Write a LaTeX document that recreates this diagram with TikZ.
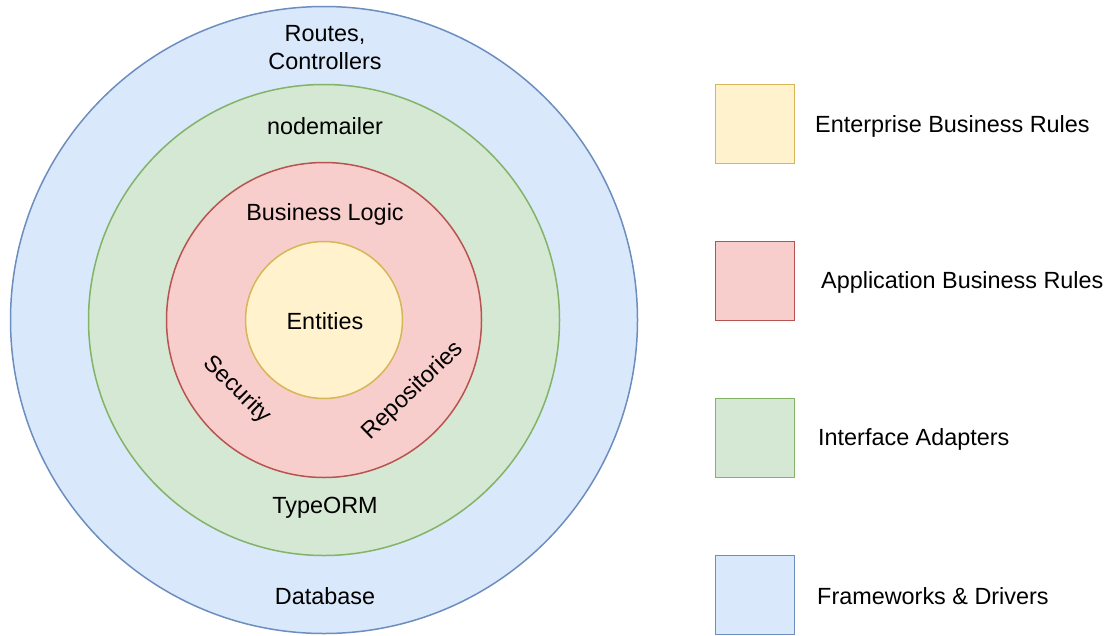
\documentclass[tikz,border=0pt]{standalone}
\usepackage{fontspec}
\setmainfont{Liberation Sans}
\definecolor{yfill}{HTML}{FFF2CC}\definecolor{ydraw}{HTML}{D6B656}
\definecolor{rfill}{HTML}{F8CECC}\definecolor{rdraw}{HTML}{B85450}
\definecolor{gfill}{HTML}{D5E8D4}\definecolor{gdraw}{HTML}{82B366}
\definecolor{bfill}{HTML}{DAE8FC}\definecolor{bdraw}{HTML}{6C8EBF}
\begin{document}
\begin{tikzpicture}[x=1pt,y=-1pt,
  ring/.style={circle,draw,line width=1.5pt,inner sep=0pt},
  key/.style={rectangle,draw,line width=1.5pt,inner sep=0pt,minimum size=79pt},
  lbl/.style={font=\fontsize{23.4}{28}\selectfont,inner sep=0pt,align=center},
  keytext/.style={font=\fontsize{23.4}{28}\selectfont,inner sep=0pt,anchor=west}]
\useasboundingbox (0,0) rectangle (1108,635);
% nested layers
\node[ring,fill=bfill,draw=bdraw,minimum size=627pt] (frameworks) at (324,320) {};
\node[ring,fill=gfill,draw=gdraw,minimum size=471pt] (adapters) at (324,320) {};
\node[ring,fill=rfill,draw=rdraw,minimum size=315pt] (usecases) at (324,320) {};
\node[ring,fill=yfill,draw=ydraw,minimum size=157pt] (entities) at (324,320) {};
% layer labels
\node[lbl] (routes) at (325,48) {Routes,\\Controllers};
\node[lbl] (mailer) at (325,126) {nodemailer};
\node[lbl] (logic) at (325,214) {Business Logic};
\node[lbl] (ent) at (325,321) {Entities};
\node[lbl,rotate=-45] (security) at (237,390) {Security};
\node[lbl,rotate=44] (repos) at (413,391) {Repositories};
\node[lbl] (orm) at (325,508) {TypeORM};
\node[lbl] (db) at (325,596) {Database};
% legend
\node[key,fill=yfill,draw=ydraw] (k1) at (755,124) {};
\node[key,fill=rfill,draw=rdraw] (k2) at (755,281) {};
\node[key,fill=gfill,draw=gdraw] (k3) at (755,438) {};
\node[key,fill=bfill,draw=bdraw] (k4) at (755,595) {};
\node[keytext] (t1) at (815,126) {Enterprise Business Rules};
\node[keytext] (t2) at (821,282) {Application Business Rules};
\node[keytext] (t3) at (818,439) {Interface Adapters};
\node[keytext] (t4) at (817,596) {Frameworks \& Drivers};
\end{tikzpicture}
\end{document}
